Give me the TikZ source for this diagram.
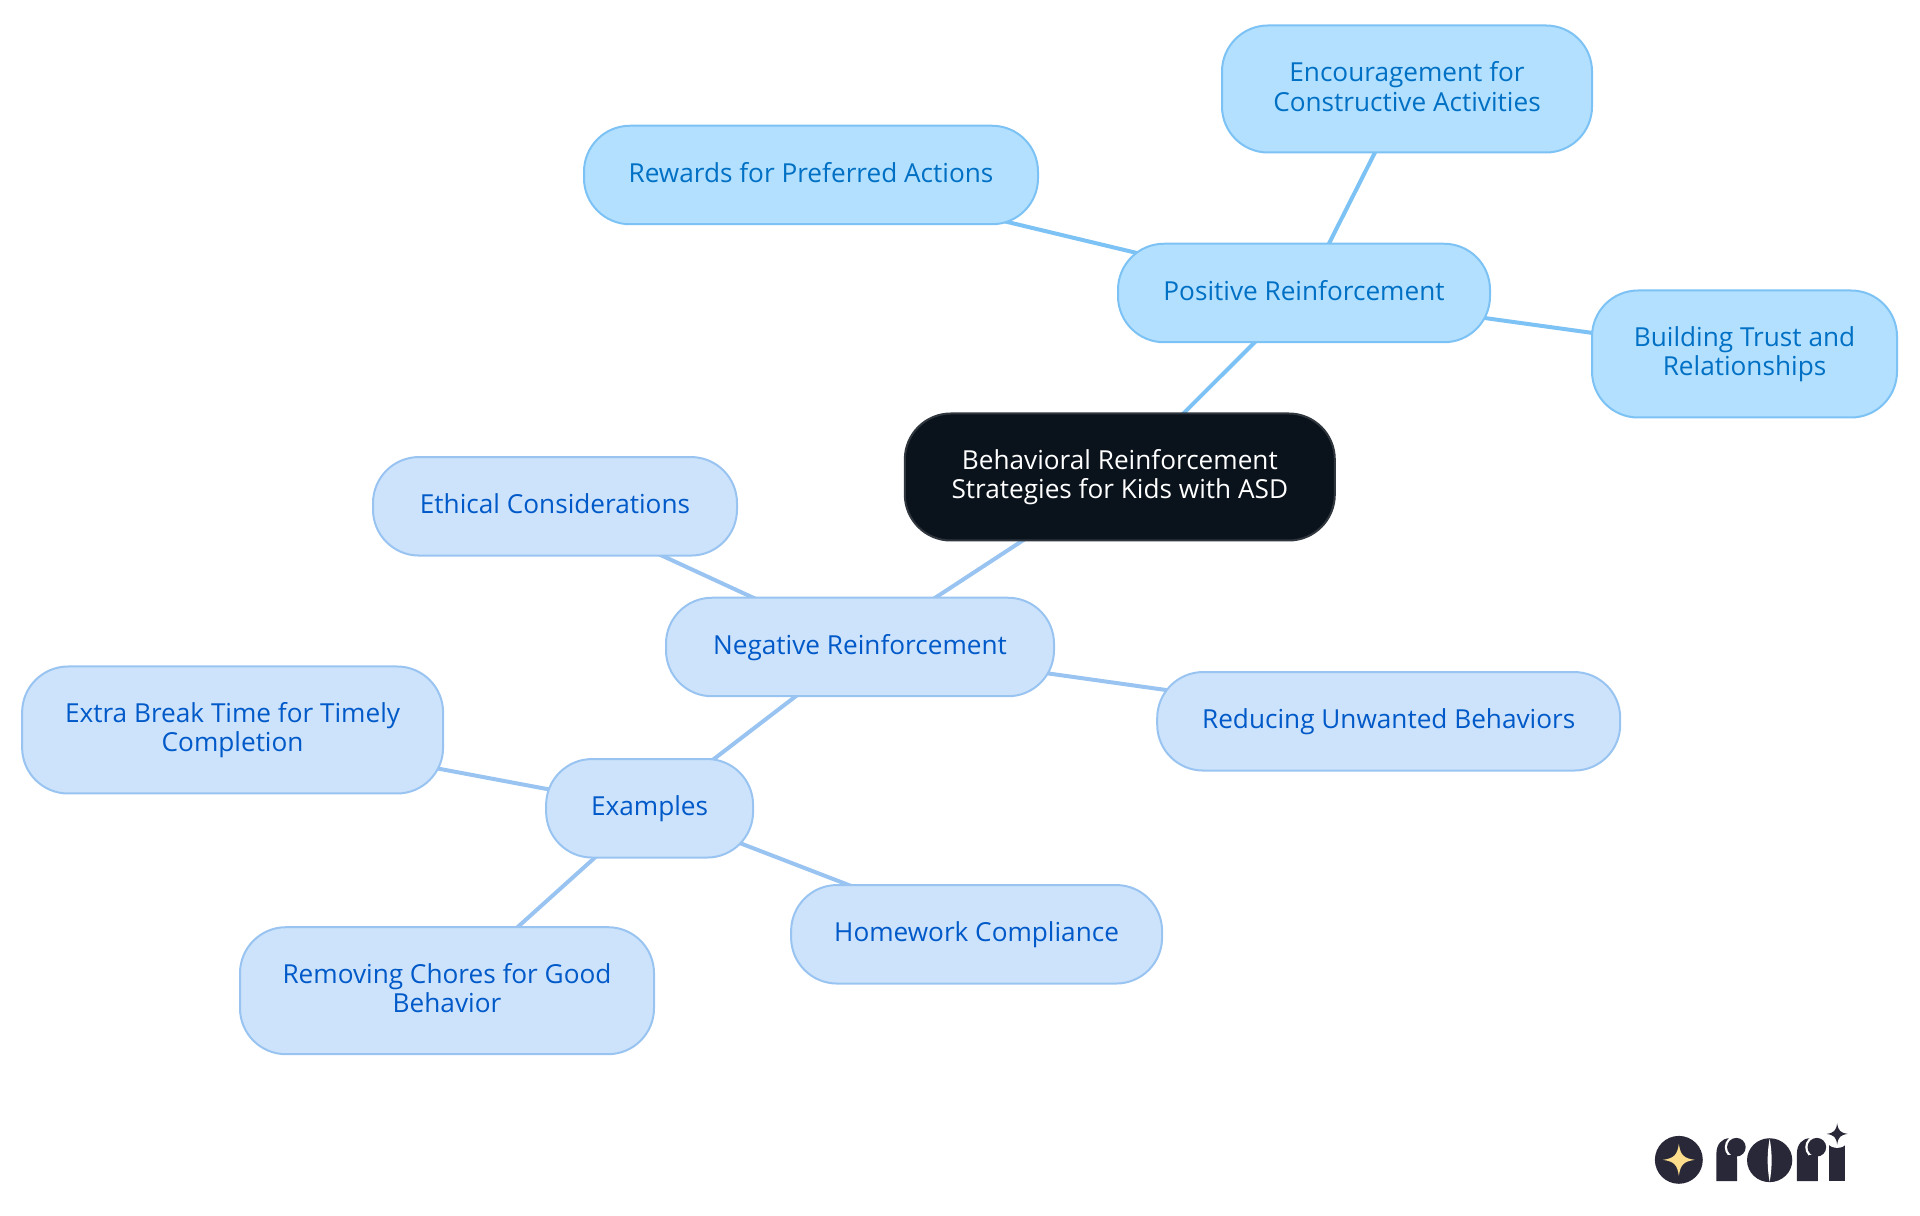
\documentclass[tikz,border=0pt]{standalone}
\usepackage{fontspec}
\setmainfont{Open Sans}
\usepackage{xcolor}
\usetikzlibrary{positioning,backgrounds}
\definecolor{rootfill}{HTML}{0A121B}
\definecolor{rootline}{HTML}{30363D}
\definecolor{posfill}{HTML}{B3E0FF}
\definecolor{posline}{HTML}{7CC2F4}
\definecolor{postext}{HTML}{0070C4}
\definecolor{negfill}{HTML}{CDE3FB}
\definecolor{negline}{HTML}{99C4F1}
\definecolor{negtext}{HTML}{0059C8}
\definecolor{logodark}{HTML}{292838}
\definecolor{logogold}{HTML}{FBDD8C}
\newcommand{\sparkle}[4]{\fill[#4,shift={(#1,#2)},scale=#3] (0,-1) .. controls (0.1,-0.3) and (0.3,-0.1) .. (1,0) .. controls (0.3,0.1) and (0.1,0.3) .. (0,1) .. controls (-0.1,0.3) and (-0.3,0.1) .. (-1,0) .. controls (-0.3,-0.1) and (-0.1,-0.3) .. (0,-1) -- cycle;}
\newcommand{\twolines}[2]{\rule{0pt}{0.2cm}#1\\#2\rule[-0.05cm]{0pt}{0.05cm}}
\tikzset{
  mapbox/.style={draw,rounded corners=0.46cm,align=center,line width=0.02cm,font=\fontsize{7.45}{8.3}\selectfont},
  rootbox/.style={mapbox,fill=rootfill,draw=rootline,text=white},
  posbox/.style={mapbox,fill=posfill,draw=posline,text=postext},
  negbox/.style={mapbox,fill=negfill,draw=negline,text=negtext},
  oneline/.style={text height=0.2cm,text depth=0.05cm},
  posedge/.style={posline,line width=0.04cm},
  negedge/.style={negline,line width=0.04cm}
}
\begin{document}
\begin{tikzpicture}
    \useasboundingbox (0,0) rectangle (19.2,12.15);
    \node[rootbox,minimum width=4.30cm,minimum height=1.27cm] (root) at (11.198,7.38) {\twolines{Behavioral Reinforcement}{Strategies for Kids with ASD}};
    \node[posbox,oneline,minimum width=3.72cm,minimum height=0.985cm] (positive) at (13.04,9.22) {Positive Reinforcement};
    \node[posbox,oneline,minimum width=4.54cm,minimum height=0.985cm] (rewards) at (8.11,10.40) {Rewards for Preferred Actions};
    \node[posbox,minimum width=3.70cm,minimum height=1.27cm] (encourage) at (14.07,11.26) {\twolines{Encouragement for}{Constructive Activities}};
    \node[posbox,minimum width=3.05cm,minimum height=1.27cm] (trust) at (17.445,8.61) {\twolines{Building Trust and}{Relationships}};
    \node[negbox,oneline,minimum width=3.88cm,minimum height=0.985cm] (negative) at (8.60,5.68) {Negative Reinforcement};
    \node[negbox,oneline,minimum width=3.64cm,minimum height=0.985cm] (ethical) at (5.55,7.087) {Ethical Considerations};
    \node[negbox,oneline,minimum width=4.63cm,minimum height=0.985cm] (reducing) at (13.887,4.937) {Reducing Unwanted Behaviors};
    \node[negbox,oneline,minimum width=2.07cm,minimum height=0.985cm] (examples) at (6.496,4.067) {Examples};
    \node[negbox,minimum width=4.21cm,minimum height=1.27cm] (extra) at (2.326,4.85) {\twolines{Extra Break Time for Timely}{Completion}};
    \node[negbox,minimum width=4.14cm,minimum height=1.27cm] (chores) at (4.47,2.243) {\twolines{Removing Chores for Good}{Behavior}};
    \node[negbox,oneline,minimum width=3.71cm,minimum height=0.985cm] (homework) at (9.766,2.807) {Homework Compliance};
    \begin{scope}[on background layer]
      \draw[posedge] (root.center) -- (positive.center);
      \draw[posedge] (positive.center) -- (rewards.center);
      \draw[posedge] (positive.center) -- (encourage.center);
      \draw[posedge] (positive.center) -- (trust.center);
      \draw[negedge] (root.center) -- (negative.center);
      \draw[negedge] (negative.center) -- (ethical.center);
      \draw[negedge] (negative.center) -- (reducing.center);
      \draw[negedge] (negative.center) -- (examples.center);
      \draw[negedge] (examples.center) -- (extra.center);
      \draw[negedge] (examples.center) -- (chores.center);
      \draw[negedge] (examples.center) -- (homework.center);
    \end{scope}
    % logo, in pixels of a 3x crop
    \begin{scope}[shift={(16,1.25)},x=0.003333cm,y=-0.003333cm]
      \fill[logodark] (237,210) circle (72);
      \sparkle{237}{210}{48}{logogold}
      % first r
      \fill[logodark] (350,274) -- (350,190) .. controls (350,165) and (365,145) .. (390,145) -- (412,175) -- (412,274) -- cycle;
      \fill[white] (410,172) circle (35);
      \fill[logodark] (410,172) circle (28);
      \fill[logodark] (385,195) rectangle (412,274);
      % o with its slit
      \fill[logodark] (510,211) ellipse (68 and 66);
      \fill[white] (510,146) .. controls (502,190) and (502,232) .. (510,276) .. controls (518,232) and (518,190) .. (510,146) -- cycle;
      % second r
      \fill[logodark] (592,274) -- (592,190) .. controls (592,165) and (607,145) .. (632,145) -- (654,175) -- (654,274) -- cycle;
      \fill[white] (652,172) circle (35);
      \fill[logodark] (652,172) circle (28);
      \fill[logodark] (627,195) rectangle (654,274);
      % i
      \fill[logodark] (687,165) rectangle (738,274);
      \fill[white] (713,132) circle (42);
      \sparkle{713}{132}{32}{logodark}
    \end{scope}
  \end{tikzpicture}
\end{document}
